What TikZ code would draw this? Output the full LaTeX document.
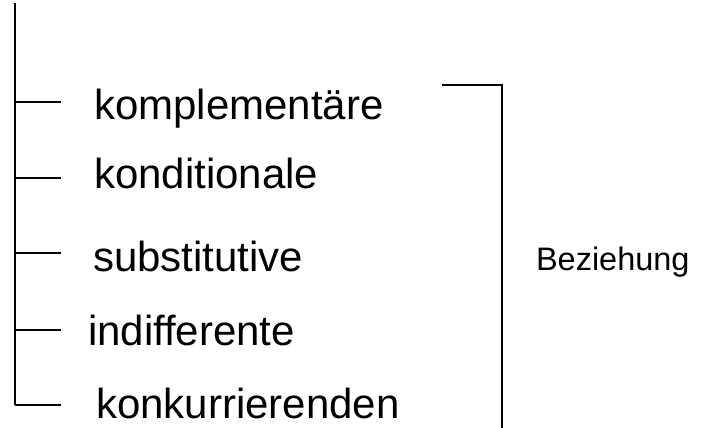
\documentclass[tikz,border=0pt]{standalone}
\usepackage{fontspec}
\setmainfont{Liberation Sans}
\begin{document}
\begin{tikzpicture}[x=1pt,y=-1pt,
    line width=2pt,
    item/.style={anchor=base west,inner sep=0pt,font=\fontsize{42}{50}\selectfont},
    label/.style={anchor=base west,inner sep=0pt,font=\fontsize{32.5}{39}\selectfont}]
  \useasboundingbox (0,0) rectangle (705,428);

  % spine with its ticks
  \coordinate (top) at (15,3);
  \coordinate (s1) at (15,102);
  \coordinate (s2) at (15,178);
  \coordinate (s3) at (15,253);
  \coordinate (s4) at (15,330);
  \coordinate (s5) at (15,405);
  \coordinate (e1) at (61,102);
  \coordinate (e2) at (61,178);
  \coordinate (e3) at (61,253);
  \coordinate (e4) at (61,330);
  \coordinate (e5) at (61,405);

  \draw (top) -- (s5);
  \draw (s1) -- (e1);
  \draw (s2) -- (e2);
  \draw (s3) -- (e3);
  \draw (s4) -- (e4);
  \draw (s5) -- (e5);

  % list entries
  \node[item] (n1) at (93,120) {komplementäre};
  \node[item] (n2) at (93,188) {konditionale};
  \node[item] (n3) at (92,271) {substitutive};
  \node[item] (n4) at (87,345) {indifferente};
  \node[item] (n5) at (95,418) {konkurrierenden};

  % bracket and its label
  \coordinate (b1) at (442,85);
  \coordinate (b2) at (502,85);
  \coordinate (b3) at (502,428);
  \draw[line join=miter] (b1) -- (b2) -- (b3);
  \node[label] (bz) at (535,270) {Beziehung};
\end{tikzpicture}
\end{document}
